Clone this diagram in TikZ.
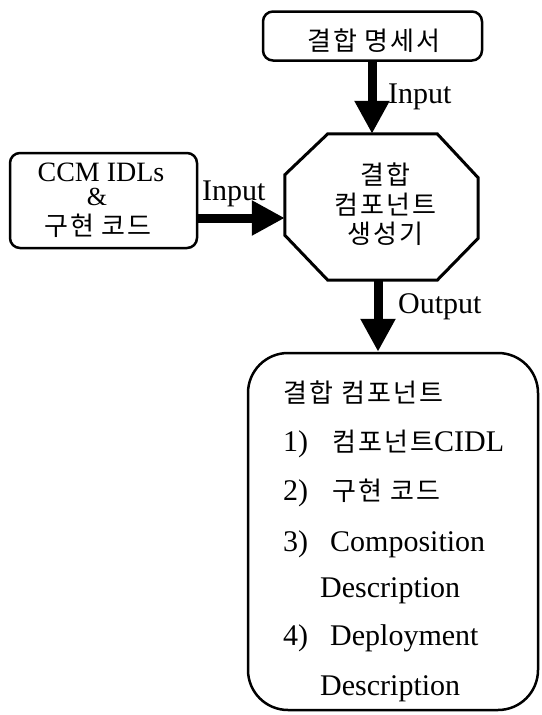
\documentclass[tikz,border=0pt]{standalone}
\usepackage{fontspec}
\setmainfont{Liberation Serif}
\newfontfamily\kr[LetterSpace=8]{Noto Sans CJK KR}
\usetikzlibrary{arrows.meta}
\newcommand{\krt}[1]{{\kr\fontsize{26}{30}\selectfont #1}}
\begin{document}
\begin{tikzpicture}[x=1pt,y=-1pt,
  box/.style={draw, line width=2.5pt, rounded corners=10pt, inner sep=0pt},
  kor/.style={font=\kr\fontsize{26}{30}\selectfont, inner sep=0pt},
  lat/.style={font=\fontsize{30}{34}\selectfont, inner sep=0pt},
  latsm/.style={font=\fontsize{28}{32}\selectfont, inner sep=0pt},
  bigarrow/.style={line width=9pt, -{Triangle[length=33pt,width=33pt]}},
  octline/.style={line width=3pt, line join=miter},
]
\useasboundingbox (0,0) rectangle (541,715);

% top box
\node[box, minimum width=219pt, minimum height=49pt] (spec) at (372.5,36) {};
\node[kor] (spectext) at (374,41) {결합 명세서};

% left box
\node[box, minimum width=187pt, minimum height=95pt] (ccm) at (103.5,200.5) {};
\node[latsm, anchor=base] (ccm1) at (101,181) {CCM IDLs};
\node[font=\fontsize{26}{30}\selectfont, inner sep=0pt, anchor=base] (ccm2) at (97,205) {\&};
\node[kor] (ccm3) at (98,226) {구현 코드};

% octagon generator
\node[minimum width=193pt, minimum height=146pt, inner sep=0pt] (gen) at (381.5,207) {};
\draw[octline] ([xshift=43pt]gen.north west) -- ([xshift=-41pt]gen.north east)
  -- ([yshift=-44pt]gen.north east) -- ([yshift=42pt]gen.south east)
  -- ([xshift=-41pt]gen.south east) -- ([xshift=43pt]gen.south west)
  -- ([yshift=45pt]gen.south west) -- ([yshift=-41pt]gen.north west) -- cycle;
\node[kor] (gen1) at (385,175) {결합};
\node[kor] (gen2) at (385,205) {컴포넌트};
\node[kor] (gen3) at (385,234) {생성기};

% result box
\node[box, rounded corners=40pt, minimum width=290pt, minimum height=357pt] (result) at (393,531.5) {};
\node[kor, anchor=west] (r0) at (283,393) {결합 컴포넌트};
\node[lat, anchor=base west] (r1n) at (283,451) {1)};
\node[lat, anchor=base west] (r1t) at (332,451) {\krt{컴포넌트}CIDL};
\node[lat, anchor=base west] (r2n) at (283,500) {2)};
\node[lat, anchor=base west] (r2t) at (332,500) {\krt{구현 코드}};
\node[lat, anchor=base west] (r3n) at (283,551) {3)};
\node[lat, anchor=base west] (r3t) at (330,551) {Composition};
\node[lat, anchor=base west] (r3c) at (320,597) {Description};
\node[lat, anchor=base west] (r4n) at (283,645) {4)};
\node[lat, anchor=base west] (r4t) at (330,645) {Deployment};
\node[lat, anchor=base west] (r4c) at (320,695) {Description};

% arrows
\coordinate (ax) at (372,0);
\coordinate (ay) at (0,218);
\coordinate (bx) at (378,0);
\draw[bigarrow] (spec.south -| ax) -- (gen.north -| ax);
\draw[bigarrow] (ccm.east |- ay) -- (gen.west |- ay);
\draw[bigarrow] (gen.south -| bx) -- (result.north -| bx);

% labels
\node[lat, anchor=base west] (in1) at (388,103) {Input};
\node[lat, anchor=base west] (in2) at (202,200) {Input};
\node[lat, anchor=base west] (out) at (398,313) {Output};
\end{tikzpicture}
\end{document}
